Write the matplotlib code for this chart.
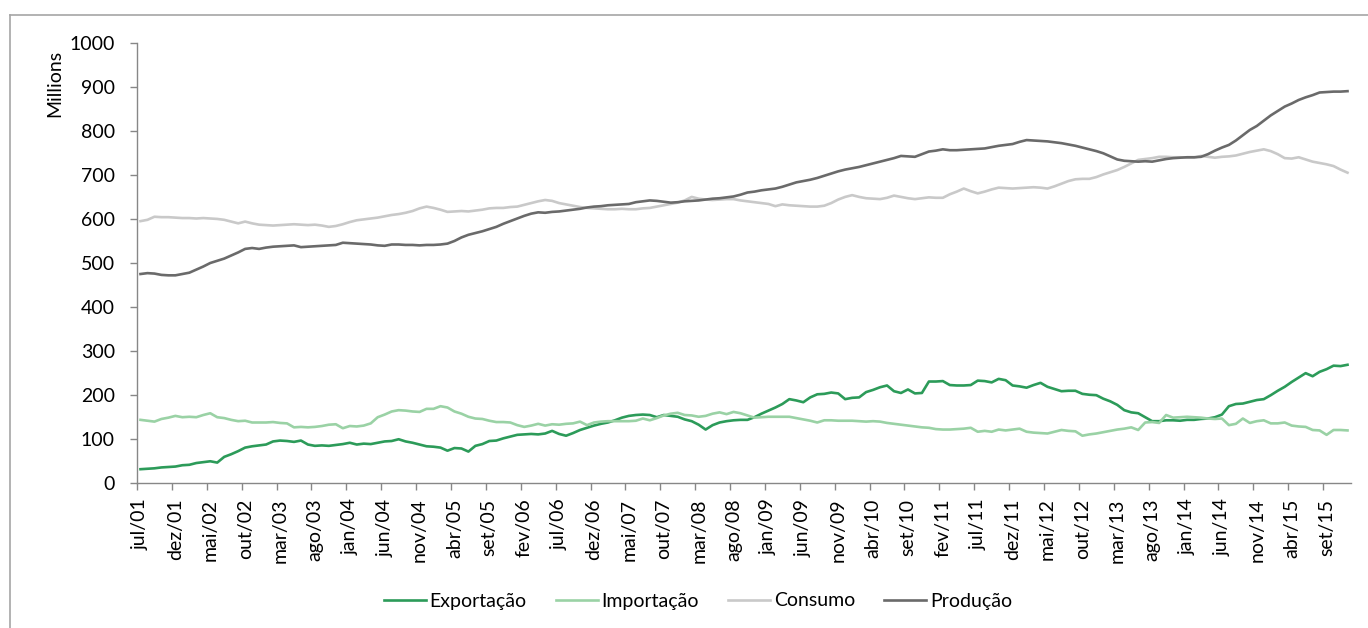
import matplotlib
matplotlib.use('Agg')
import matplotlib.pyplot as plt
from matplotlib.lines import Line2D

plt.rcParams['font.family'] = ['Lato', 'DejaVu Sans']

# monthly categories jul/01 .. dez/15
pt_months = ['jan', 'fev', 'mar', 'abr', 'mai', 'jun', 'jul', 'ago', 'set', 'out', 'nov', 'dez']
months = [pt_months[(6 + k) % 12] + '/' + '%02d' % ((1 + (6 + k) // 12) % 100) for k in range(174)]

exportacao = [
    32, 33, 34, 36, 37, 38, 41, 42, 46, 48,
    50, 47, 60, 66, 73, 81, 84, 86, 88, 95,
    97, 96, 94, 97, 88, 85, 86, 85, 87, 89,
    92, 88, 90, 89, 92, 95, 96, 100, 95, 92,
    88, 84, 83, 81, 74, 80, 79, 72, 85, 89,
    96, 97, 102, 106, 110, 111, 112, 111, 113, 119,
    112, 108, 114, 121, 126, 131, 135, 138, 143, 149,
    153, 155, 156, 155, 150, 155, 153, 151, 145, 141,
    133, 122, 132, 138, 141, 143, 144, 144, 150, 158,
    165, 172, 180, 191, 188, 184, 195, 202, 203, 206,
    204, 191, 194, 195, 207, 212, 218, 222, 209, 205,
    213, 204, 205, 231, 231, 232, 223, 222, 222, 223,
    233, 232, 229, 237, 234, 222, 220, 217, 223, 228,
    219, 214, 209, 210, 210, 203, 201, 200, 192, 186,
    178, 166, 161, 159, 150, 141, 141, 143, 143, 142,
    144, 144, 146, 147, 150, 156, 175, 180, 181, 185,
    189, 191, 200, 210, 219, 230, 240, 250, 243, 253,
    259, 267, 266, 269]

importacao = [
    144, 142, 140, 146, 149, 153, 150, 151, 150, 155,
    159, 150, 148, 144, 141, 142, 138, 138, 138, 139,
    137, 136, 127, 128, 127, 128, 130, 133, 134, 125,
    130, 129, 131, 136, 150, 156, 163, 166, 165, 163,
    162, 169, 169, 175, 172, 163, 158, 151, 147, 146,
    142, 139, 139, 138, 132, 128, 131, 135, 131, 134,
    133, 135, 136, 140, 132, 138, 140, 141, 141, 141,
    141, 142, 147, 143, 148, 154, 158, 160, 155, 154,
    151, 153, 158, 161, 157, 162, 159, 154, 149, 150,
    151, 151, 151, 151, 148, 145, 142, 138, 143, 143,
    142, 142, 142, 141, 140, 141, 140, 137, 135, 133,
    131, 129, 127, 126, 123, 122, 122, 123, 124, 126,
    117, 119, 117, 122, 120, 122, 124, 117, 115, 114,
    113, 117, 121, 119, 118, 108, 111, 113, 116, 119,
    122, 124, 127, 121, 138, 139, 137, 155, 149, 150,
    151, 150, 149, 147, 146, 147, 132, 135, 147, 137,
    141, 143, 136, 136, 138, 131, 129, 128, 121, 120,
    110, 121, 121, 120]

consumo = [
    595, 598, 605, 604, 604, 603, 602, 602, 601, 602,
    601, 600, 598, 594, 590, 594, 590, 587, 586, 585,
    586, 587, 588, 587, 586, 587, 585, 582, 584, 588,
    593, 597, 599, 601, 603, 606, 609, 611, 614, 618,
    624, 628, 625, 621, 616, 617, 618, 617, 619, 621,
    624, 625, 625, 627, 628, 632, 636, 640, 643, 641,
    636, 633, 630, 627, 625, 624, 623, 622, 622, 623,
    622, 622, 624, 625, 628, 631, 634, 637, 642, 650,
    646, 644, 643, 644, 645, 645, 642, 640, 638, 636,
    634, 629, 633, 631, 630, 629, 628, 628, 630, 636,
    644, 650, 654, 650, 647, 646, 645, 648, 653, 650,
    647, 645, 647, 649, 648, 648, 656, 662, 669, 663,
    658, 662, 667, 671, 670, 669, 670, 671, 672, 671,
    669, 674, 680, 686, 690, 691, 691, 695, 701, 706,
    711, 718, 726, 734, 736, 738, 741, 741, 740, 740,
    739, 739, 743, 741, 739, 741, 742, 744, 748, 752,
    755, 758, 754, 747, 738, 737, 740, 735, 730, 727,
    724, 720, 712, 705]

producao = [
    475, 477, 476, 473, 472, 472, 475, 478, 485, 492,
    500, 505, 510, 517, 524, 532, 534, 532, 535, 537,
    538, 539, 540, 536, 537, 538, 539, 540, 541, 546,
    545, 544, 543, 542, 540, 539, 542, 542, 541, 541,
    540, 541, 541, 542, 544, 550, 558, 564, 568, 572,
    577, 582, 589, 595, 601, 607, 612, 615, 614, 616,
    617, 619, 621, 623, 626, 628, 629, 631, 632, 633,
    634, 638, 640, 642, 641, 639, 637, 638, 640, 641,
    642, 644, 646, 647, 649, 651, 655, 660, 662, 665,
    667, 669, 673, 678, 683, 686, 689, 693, 698, 703,
    708, 712, 715, 718, 722, 726, 730, 734, 738, 743,
    742, 741, 747, 753, 755, 758, 756, 756, 757, 758,
    759, 760, 763, 766, 768, 770, 775, 779, 778, 777,
    776, 774, 772, 769, 766, 762, 758, 754, 749, 742,
    735, 732, 731, 730, 731, 730, 733, 736, 738, 739,
    740, 740, 741, 747, 755, 762, 768, 778, 790, 802,
    811, 823, 835, 845, 855, 862, 870, 876, 881, 887,
    888, 889, 889, 890]

x = list(range(len(months)))
fs = 14

fig = plt.figure(figsize=(13.68, 6.28), dpi=100)
ax = fig.add_axes([137 / 1368, 1 - 483.3 / 628, (1351 - 137) / 1368, (483.3 - 42.7) / 628])

ax.plot(x, exportacao, color='#2C9B59', lw=1.9, label='Exportação')
ax.plot(x, importacao, color='#9AD2A5', lw=1.9, label='Importação')
ax.plot(x, consumo, color='#C9C9C9', lw=1.9, label='Consumo')
ax.plot(x, producao, color='#6A6A6A', lw=1.9, label='Produção')

ax.set_xlim(-0.5, len(months) - 0.5)
ax.set_ylim(0, 1000)
ax.set_yticks(range(0, 1001, 100))

ax.set_xticks(x[::5])
ax.set_xticklabels(months[::5], rotation=90, fontsize=fs)
ax.set_xticks([i - 0.5 for i in range(0, len(months) + 1, 5)], minor=True)
ax.tick_params(axis='x', which='major', length=0, pad=11)
ax.tick_params(axis='x', which='minor', length=5, color='#878787', width=1)
ax.tick_params(axis='y', length=5, color='#878787', width=1, labelsize=fs, pad=11)

for s in ['top', 'right']:
    ax.spines[s].set_visible(False)
for s in ['left', 'bottom']:
    ax.spines[s].set_color('#878787')
    ax.spines[s].set_linewidth(1)

fig.text(55 / 1368, 1 - 83 / 628, 'Millions', rotation=90, ha='center', va='center', fontsize=fs)

fig.legend(loc='center', bbox_to_anchor=(698 / 1368, 1 - 601 / 628), ncol=4, frameon=False,
           fontsize=fs, handlelength=2.15, handletextpad=0.2, columnspacing=1.5)

# outer chart border (only top and left visible in the crop)
fig.add_artist(Line2D([10 / 1368, 10 / 1368], [0, 1 - 15 / 628], transform=fig.transFigure, color='#A6A6A6', lw=1.2))
fig.add_artist(Line2D([10 / 1368, 1], [1 - 15 / 628, 1 - 15 / 628], transform=fig.transFigure, color='#A6A6A6', lw=1.2))

fig.savefig('out.png', dpi=100)
